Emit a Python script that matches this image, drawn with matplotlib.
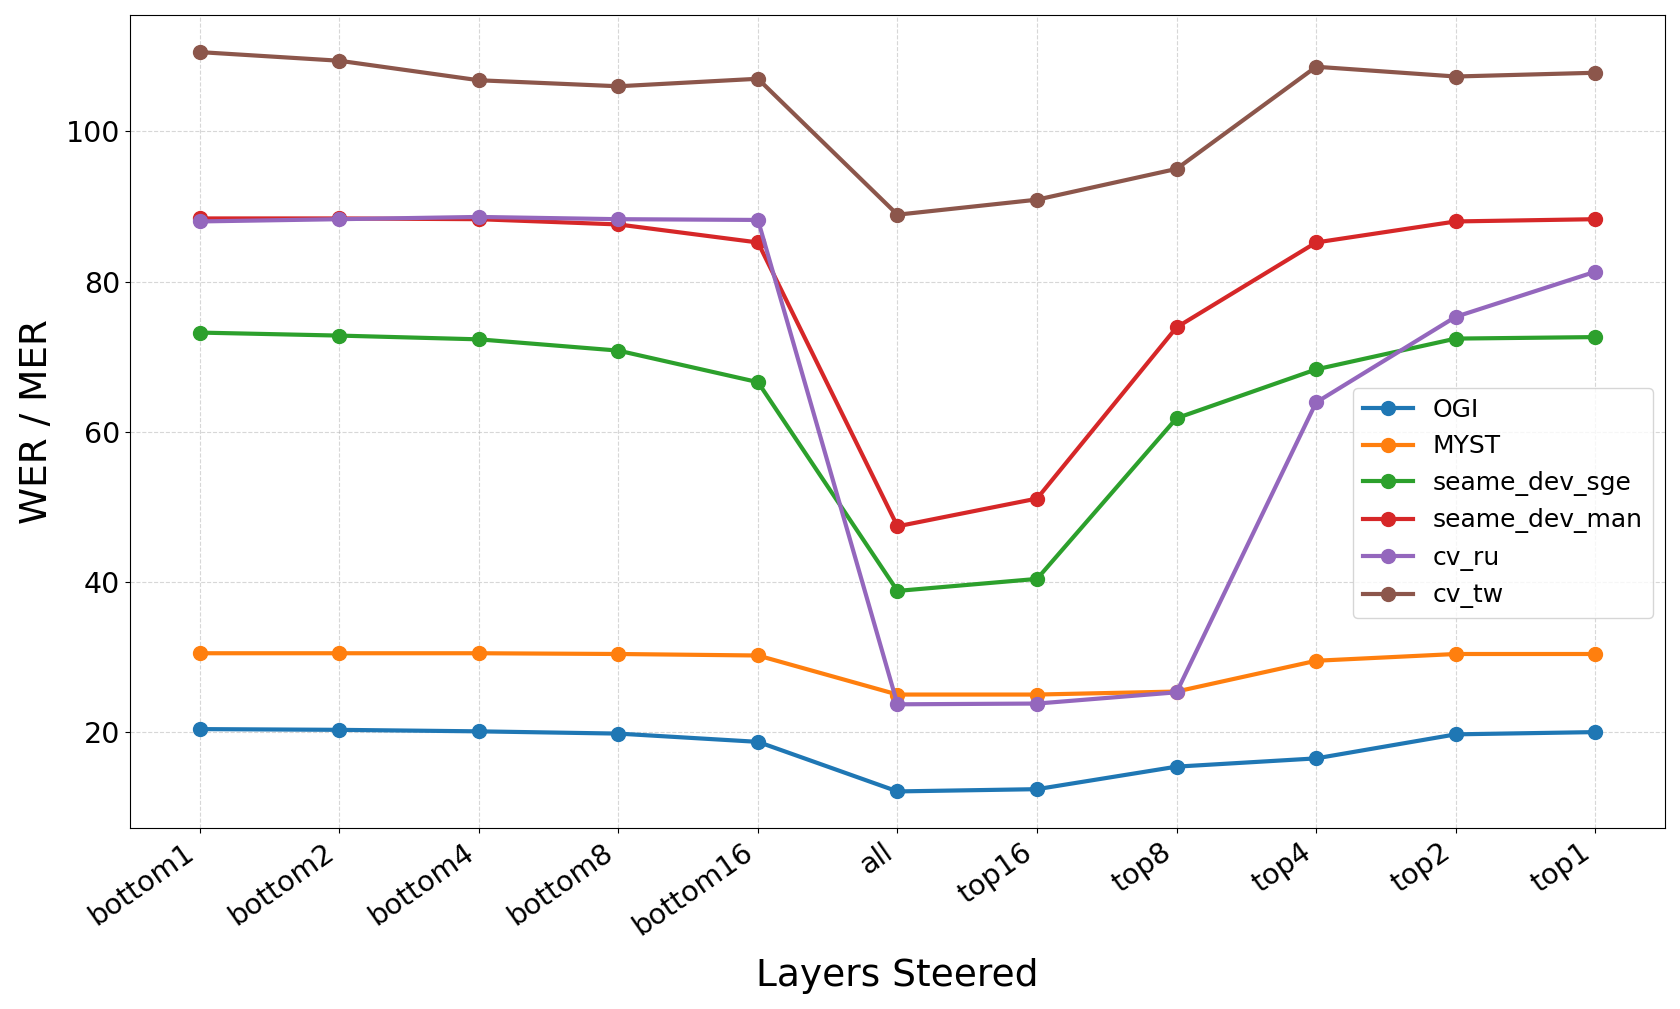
import matplotlib
matplotlib.use('agg')
import matplotlib.pyplot as plt

# layers steered on the x axis
layers = ['bottom1', 'bottom2', 'bottom4', 'bottom8', 'bottom16', 'all',
          'top16', 'top8', 'top4', 'top2', 'top1']

# WER / MER per dataset
ogi = [20.4, 20.3, 20.1, 19.8, 18.7, 12.1, 12.4, 15.4, 16.5, 19.7, 20.0]
myst = [30.5, 30.5, 30.5, 30.4, 30.2, 25.0, 25.0, 25.4, 29.5, 30.4, 30.4]
seame_dev_sge = [73.2, 72.8, 72.3, 70.8, 66.6, 38.8, 40.4, 61.8, 68.3, 72.4, 72.6]
seame_dev_man = [88.4, 88.4, 88.3, 87.6, 85.2, 47.4, 51.1, 73.9, 85.2, 88.0, 88.3]
cv_ru = [88.0, 88.3, 88.6, 88.3, 88.2, 23.7, 23.8, 25.3, 63.9, 75.3, 81.3]
cv_tw = [110.55, 109.4, 106.8, 106.0, 107.0, 88.9, 90.9, 95.0, 108.6, 107.3, 107.8]

series = [('OGI', ogi), ('MYST', myst), ('seame_dev_sge', seame_dev_sge),
          ('seame_dev_man', seame_dev_man), ('cv_ru', cv_ru), ('cv_tw', cv_tw)]

fig, ax = plt.subplots(figsize=(16.81, 10.09), dpi=100)
fig.subplots_adjust(left=0.0773, right=0.9905, top=0.985, bottom=0.179)

for name, vals in series:
    ax.plot(layers, vals, marker='o', linewidth=3, markersize=10, label=name)

ax.grid(True, linestyle='--', alpha=0.5)
ax.set_xlabel('Layers Steered', fontsize=27, labelpad=12)
ax.set_ylabel('WER / MER', fontsize=27, labelpad=8)
ax.tick_params(axis='both', labelsize=20.5)
plt.setp(ax.get_xticklabels(), rotation=35, ha='right')
ax.legend(fontsize=18, loc='center right', bbox_to_anchor=(1.0, 0.4))

fig.savefig('out.png', dpi=100)
